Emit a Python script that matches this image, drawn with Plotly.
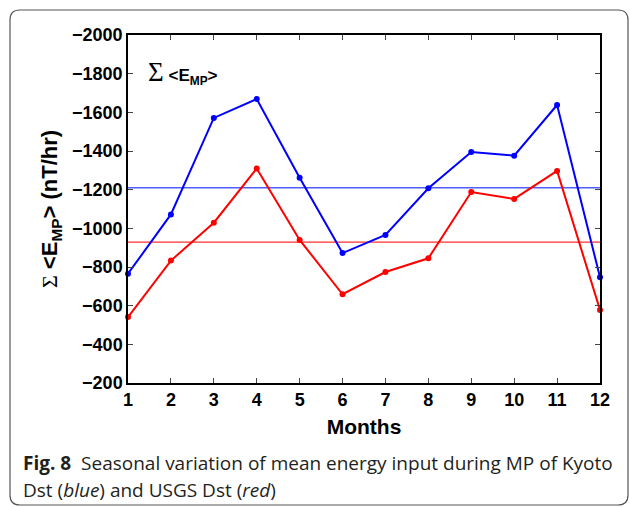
import plotly.graph_objects as go

months = list(range(1, 13))
kyoto = [-765, -1072, -1571, -1669, -1262, -872, -966, -1207, -1395, -1376, -1638, -747]
usgs = [-541, -833, -1029, -1310, -940, -659, -774, -845, -1188, -1152, -1297, -578]
kyoto_mean = -1210
usgs_mean = -929
y_ticks = [-2000, -1800, -1600, -1400, -1200, -1000, -800, -600, -400, -200]

W, H = 630, 507
L, R, T, B = 128, 30, 35, 124
pw, ph = W - L - R, H - T - B

def px(x):
    return (x - L) / pw

def py(y):
    return 1 - (y - T) / ph

fig = go.Figure()
fig.add_trace(go.Scatter(x=months, y=[kyoto_mean] * 12, mode="lines",
                         line=dict(color="#4f5cff", width=1.3), showlegend=False, hoverinfo="skip"))
fig.add_trace(go.Scatter(x=months, y=[usgs_mean] * 12, mode="lines",
                         line=dict(color="#ff3030", width=1.3), showlegend=False, hoverinfo="skip"))
fig.add_trace(go.Scatter(x=months, y=kyoto, mode="lines+markers",
                         line=dict(color="#0000ff", width=2), marker=dict(size=6, color="#0000ff"),
                         showlegend=False, cliponaxis=False))
fig.add_trace(go.Scatter(x=months, y=usgs, mode="lines+markers",
                         line=dict(color="#ff0000", width=2), marker=dict(size=6, color="#ff0000"),
                         showlegend=False, cliponaxis=False))

tickfont = dict(family="Arial, Liberation Sans", size=18, color="black")

fig.update_xaxes(range=[1, 12], tickvals=months, ticktext=[f"<b>{m}</b>" for m in months],
                 ticks="inside", ticklen=5, tickwidth=1,
                 mirror="ticks", showline=True, linecolor="black", linewidth=1.5,
                 showgrid=False, zeroline=False, tickfont=tickfont,
                 title=dict(text="<b>Months</b>", font=dict(family="Arial, Liberation Sans", size=21,
                                                           color="black"), standoff=10))
fig.update_yaxes(range=[-200, -2000], autorange=False, tickvals=y_ticks,
                 ticktext=[f"<b>\u2212{abs(v)}</b>" for v in y_ticks],
                 ticks="inside", ticklen=5,
                 tickwidth=1, mirror="ticks", showline=True, linecolor="black", linewidth=1.5,
                 showgrid=False, zeroline=False, tickfont=tickfont,
                 title=dict(text="<span style='font-family:Liberation Serif'>Σ</span> <b>&lt;E<sub>MP</sub>&gt; (nT/hr)</b>",
                            font=dict(family="Arial, Liberation Sans", size=22, color="black"),
                            standoff=8))

annotations = [
    dict(x=px(146), y=py(72), xref="paper", yref="paper", xanchor="left", yanchor="middle",
         showarrow=False,
         text="<span style='font-family:Liberation Serif;font-size:27px'>Σ</span> "
              "<b>&lt;E<sub>MP</sub>&gt;</b>",
         font=dict(family="Arial, Liberation Sans", size=17, color="black")),
    dict(x=px(21), y=py(463), xref="paper", yref="paper", xanchor="left", yanchor="middle",
         showarrow=False,
         text="<b>Fig. 8</b>  Seasonal variation of mean energy input during MP of Kyoto",
         font=dict(family="Open Sans", size=19, color="#231f20")),
    dict(x=px(21), y=py(490), xref="paper", yref="paper", xanchor="left", yanchor="middle",
         showarrow=False,
         text="Dst (<i>blue</i>) and USGS Dst (<i>red</i>)",
         font=dict(family="Open Sans", size=19, color="#231f20")),
]

# rounded border frame
x0, y0, x1, y1, r = 10, 10, 628, 505, 10
path = (f"M {px(x0)},{py(y0 + r)} Q {px(x0)},{py(y0)} {px(x0 + r)},{py(y0)} "
        f"L {px(x1 - r)},{py(y0)} Q {px(x1)},{py(y0)} {px(x1)},{py(y0 + r)} "
        f"L {px(x1)},{py(y1 - r)} Q {px(x1)},{py(y1)} {px(x1 - r)},{py(y1)} "
        f"L {px(x0 + r)},{py(y1)} Q {px(x0)},{py(y1)} {px(x0)},{py(y1 - r)} Z")
shapes = [dict(type="path", xref="paper", yref="paper", path=path,
               line=dict(color="#555555", width=1.2), fillcolor="rgba(0,0,0,0)", layer="below")]

fig.update_layout(width=W, height=H, margin=dict(l=L, r=R, t=T, b=B),
                  paper_bgcolor="white", plot_bgcolor="white",
                  annotations=annotations, shapes=shapes)

fig.write_html("out.html")
